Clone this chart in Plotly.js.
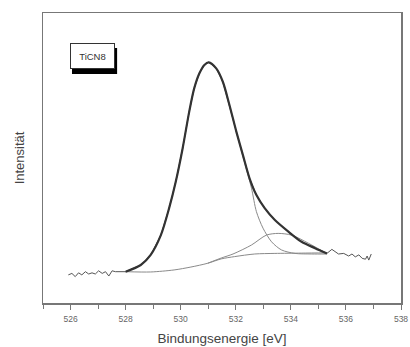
<!DOCTYPE html>
<html>
<head>
<meta charset="utf-8">
<script src="https://cdn.plot.ly/plotly-3.0.1.min.js"></script>
<style>html,body{margin:0;padding:0;background:#fff;}#chart{width:410px;height:347px;}</style>
</head>
<body>
<div id="chart"></div>
<script>
// Measured spectrum (thin line, noise wings)
const dataX = [525.92,526.05,526.17,526.29,526.41,526.54,526.66,526.78,526.90,527.02,527.15,527.27,527.39,527.51,527.63,527.81,528.00,
  528.55,528.91,529.28,529.58,529.82,530.07,530.31,530.49,530.68,530.86,531.02,531.29,531.53,531.77,532.02,532.26,532.50,532.75,533.05,533.42,533.91,534.39,534.88,535.31,
  535.49,535.61,535.73,535.92,536.10,536.22,536.34,536.47,536.59,536.71,536.77,536.83,536.92];
const dataY = [9.7,10.2,9.1,10.4,9.7,10.8,10.0,10.4,10.0,11.1,10.2,10.8,9.3,11.1,10.8,10.8,10.8,
  13.1,16.6,23.4,32.7,41.8,53.3,66.0,74.0,79.2,82.1,83.0,80.9,76.3,68.3,59.1,51.0,43.0,37.2,32.7,28.6,24.6,21.1,18.9,17.1,
  18.5,17.7,16.9,17.1,16.2,16.9,15.9,16.6,15.4,15.1,16.2,14.8,16.9];

// Fit envelope (thick)
const envX = [528.00,528.55,528.91,529.28,529.58,529.82,530.07,530.31,530.49,530.68,530.86,531.02,531.29,531.53,531.77,532.02,532.26,532.50,532.75,533.05,533.42,533.91,534.39,534.88,535.31];
const envY = [10.8,13.1,16.6,23.4,32.7,41.8,53.3,66.0,74.0,79.2,82.1,83.0,80.9,76.3,68.3,59.1,51.0,43.0,37.2,32.7,28.6,24.6,21.1,18.9,17.1];

// Main component
const comp1X = [528.00,528.55,528.91,529.28,529.58,529.82,530.07,530.31,530.49,530.68,530.86,531.02,531.29,531.53,531.77,532.02,532.26,532.57,532.75,532.99,533.30,533.66,534.15,534.76,535.31];
const comp1Y = [10.8,13.1,16.6,23.4,32.7,41.8,53.3,66.0,74.0,79.2,82.1,83.0,80.9,76.3,68.3,59.1,50.5,39.6,31.5,25.8,21.1,18.3,17.1,16.9,16.9];

// Second component
const comp2X = [530.98,531.47,531.90,532.57,533.11,533.54,534.03,534.64,535.24];
const comp2Y = [13.7,15.5,16.9,20.0,23.4,24.0,23.4,20.6,17.4];

// Background
const bgX = [528.00,528.91,529.76,530.37,530.98,531.47,531.96,532.69,533.42,534.39,535.31];
const bgY = [10.8,10.7,11.4,12.4,13.7,15.2,16.0,16.9,17.1,17.2,17.3];

const sampleLabel = "TiCN8";
const xTickVals = [526,528,530,532,534,536,538];

const thin = {color:'#8a8a8a', width:1, shape:'spline', smoothing:0.8};
const traces = [
  {x:bgX, y:bgY, mode:'lines', line:thin, hoverinfo:'skip'},
  {x:comp2X, y:comp2Y, mode:'lines', line:thin, hoverinfo:'skip'},
  {x:comp1X, y:comp1Y, mode:'lines', line:thin, hoverinfo:'skip'},
  {x:dataX, y:dataY, mode:'lines', line:{color:'#555', width:1}, hoverinfo:'skip'},
  {x:envX, y:envY, mode:'lines', line:{color:'#333', width:2.2, shape:'spline', smoothing:0.8}, hoverinfo:'skip'}
];

const layout = {
  width:410, height:347,
  margin:{l:43, r:9, t:13, b:44},
  paper_bgcolor:'#fff', plot_bgcolor:'#fff',
  showlegend:false,
  font:{family:'Liberation Sans, Arial, sans-serif', color:'#555'},
  xaxis:{
    range:[525,538], tickvals:xTickVals, ticktext:xTickVals.map(String),
    ticks:'outside', ticklen:5, tickcolor:'#777', tickwidth:1,
    minor:{dtick:1, ticks:'outside', ticklen:4, tickcolor:'#777'},
    showline:true, linecolor:'#777', linewidth:1.5, mirror:true,
    showgrid:false, zeroline:false,
    ticklabelstandoff:2,
    tickfont:{size:8.5, color:'#666'},
    title:{text:'Bindungsenergie [eV]', font:{size:13.5, color:'#444'}, standoff:11}
  },
  yaxis:{
    range:[0,100], showticklabels:false, ticks:'',
    showline:true, linecolor:'#777', linewidth:1.5, mirror:true,
    showgrid:false, zeroline:false,
    title:{text:'Intensität', font:{size:13, color:'#444'}, standoff:14}
  },
  shapes:[
    {type:'rect', xref:'paper', yref:'paper', x0:0.081, x1:0.207, y0:0.790, y1:0.879,
     fillcolor:'#000', line:{width:0}, layer:'above'}
  ],
  annotations:[
    {xref:'paper', yref:'paper', x:0.138, y:0.851, xanchor:'center', yanchor:'middle',
     text:sampleLabel, showarrow:false, bgcolor:'#fff', bordercolor:'#333', borderwidth:1,
     width:41, height:22, font:{size:9.5, color:'#333'}}
  ]
};

Plotly.newPlot('chart', traces, layout, {staticPlot:true, displayModeBar:false});
</script>
</body>
</html>
